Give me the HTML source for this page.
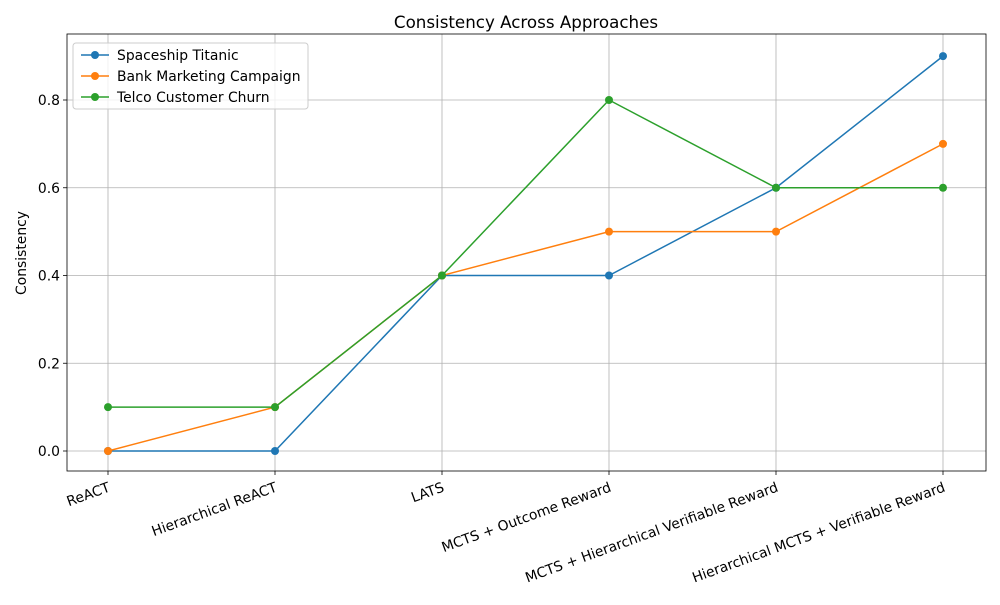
<!DOCTYPE html>
<html><head><meta charset="utf-8"><style>
body{margin:0;background:#fff;font-family:"Liberation Sans","DejaVu Sans",sans-serif}
svg text{font-family:"DejaVu Sans","Liberation Sans",sans-serif}
</style></head><body>
<svg id="chart" width="1000" height="600" xmlns="http://www.w3.org/2000/svg">
<rect width="1000" height="600" fill="#fff"/>
<g id="grid"></g><g id="axes"></g><g id="series"></g><g id="legend"></g>
<text x="526" y="28" text-anchor="middle" font-size="16.7">Consistency Across Approaches</text>
<text transform="translate(26,253) rotate(-90)" text-anchor="middle" font-size="13.9">Consistency</text>
</svg>
<script>
const categories=["ReACT","Hierarchical ReACT","LATS","MCTS + Outcome Reward","MCTS + Hierarchical Verifiable Reward","Hierarchical MCTS + Verifiable Reward"];
const seriesNames=["Spaceship Titanic","Bank Marketing Campaign","Telco Customer Churn"];
const spaceship=[0,0,0.4,0.4,0.6,0.9];
const bank=[0,0.1,0.4,0.5,0.5,0.7];
const telco=[0.1,0.1,0.4,0.8,0.6,0.6];
const yTicks=[0,0.2,0.4,0.6,0.8];
const colors=["#1f77b4","#ff7f0e","#2ca02c"];
const L=67,R=986,T=34,B=471;
const x=i=>108+i*(943-108)/(categories.length-1);
const y=v=>451-v*(451-100)/0.8;
const NS="http://www.w3.org/2000/svg";
function mk(t,a,p){const e=document.createElementNS(NS,t);for(const k in a)e.setAttribute(k,a[k]);p.appendChild(e);return e;}
const grid=document.getElementById('grid'),axes=document.getElementById('axes'),ser=document.getElementById('series'),leg=document.getElementById('legend');
categories.forEach((c,i)=>{
 const g=mk('line',{x1:x(i),x2:x(i),y1:T,y2:B,stroke:'#b0b0b0','stroke-width':0.8},grid);
 
 mk('line',{x1:x(i),x2:x(i),y1:B,y2:B+4,stroke:'#000','stroke-width':0.8},axes);
 const t=mk('text',{x:0,y:0,'font-size':13.9,'text-anchor':'end',transform:`translate(${x(i)+3},${B+20}) rotate(-20)`},axes);
 t.textContent=c;
 
});
yTicks.forEach(v=>{
 const g=mk('line',{x1:L,x2:R,y1:y(v),y2:y(v),stroke:'#b0b0b0','stroke-width':0.8},grid);
 
 mk('line',{x1:L-4,x2:L,y1:y(v),y2:y(v),stroke:'#000','stroke-width':0.8},axes);
 const t=mk('text',{x:L-7,y:y(v)+5,'font-size':13.9,'text-anchor':'end'},axes);
 t.textContent=v.toFixed(1);
 
});
const fr=mk('rect',{x:L,y:T,width:R-L,height:B-T,fill:'none',stroke:'#000','stroke-width':0.8},axes);

[spaceship,bank,telco].forEach((d,s)=>{
 const p=mk('polyline',{points:d.map((v,i)=>x(i)+','+y(v)).join(' '),fill:'none',stroke:colors[s],'stroke-width':1.5},ser);
 
 d.forEach((v,i)=>{const c=mk('circle',{cx:x(i),cy:y(v),r:4,fill:colors[s]},ser);
 });
});
const lb=mk('rect',{x:73,y:43,width:235,height:66,rx:3,fill:'#fff',stroke:'#ccc','stroke-width':1,'fill-opacity':0.8},leg);

seriesNames.forEach((n,s)=>{
 const yy=55+s*21;
 mk('line',{x1:81,x2:109,y1:yy,y2:yy,stroke:colors[s],'stroke-width':1.5},leg);
 mk('circle',{cx:95,cy:yy,r:4,fill:colors[s]},leg);
 const t=mk('text',{x:117,y:yy+5,'font-size':13.9},leg);t.textContent=n;
 
});
</script>
</body></html>
